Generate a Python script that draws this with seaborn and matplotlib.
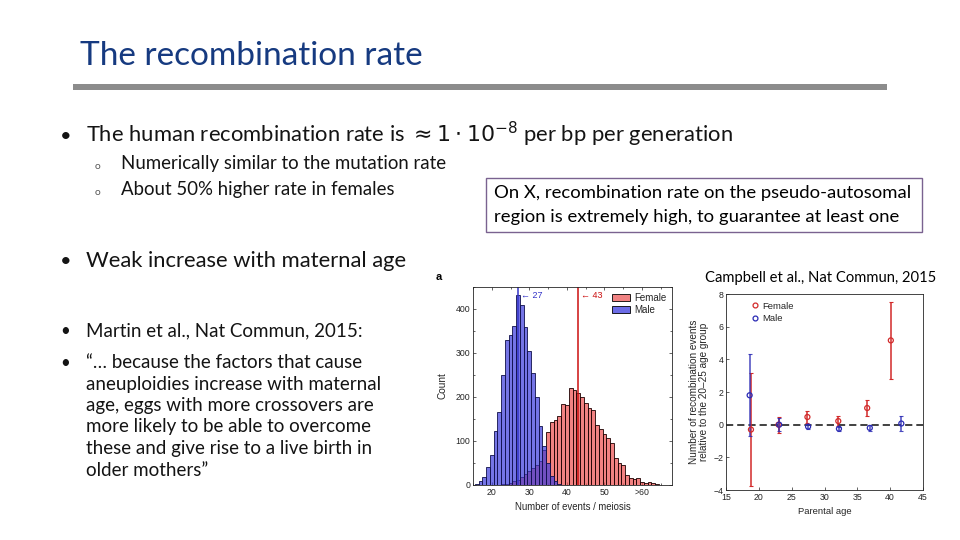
import numpy as np
import pandas as pd
import matplotlib
matplotlib.use("Agg")
import matplotlib.pyplot as plt
import seaborn as sns
from matplotlib.patches import Rectangle, Patch
from matplotlib.lines import Line2D

sns.set_theme(style="ticks")
plt.rcParams['font.family'] = ['Lato', 'DejaVu Sans']

# ---------------- slide text ----------------
title = "The recombination rate"
bullet_main = r"The human recombination rate is $\approx 1\cdot 10^{-8}$ per bp per generation"
sub_bullets = ["Numerically similar to the mutation rate",
               "About 50% higher rate in females"]
bullet_weak = "Weak increase with maternal age"
bullet_martin = "Martin et al., Nat Commun, 2015:"
quote_lines = ["\u201c\u2026 because the factors that cause",
               "aneuploidies increase with maternal",
               "age, eggs with more crossovers are",
               "more likely to be able to overcome",
               "these and give rise to a live birth in",
               "older mothers\u201d"]
box_lines = ["On X, recombination rate on the pseudo-autosomal",
             "region is extremely high, to guarantee at least one"]
citation = "Campbell et al., Nat Commun, 2015"

# ---------------- histogram data (panel a) ----------------
male_bins = [16, 17, 18, 19, 20, 21, 22, 23, 24, 25, 26, 27, 28, 29, 30, 31, 32, 33, 34, 35, 36, 37, 38]
male_counts = [3, 9, 19, 40, 68, 122, 167, 250, 330, 342, 362, 432, 410, 360, 305, 254, 200, 133, 88, 50, 20, 8, 3]
female_bins = [22, 23, 24, 25, 26, 27, 28, 29, 30, 31, 32, 33, 34, 35, 36, 37, 38, 39, 40, 41, 42, 43,
               44, 45, 46, 47, 48, 49, 50, 51, 52, 53, 54, 55, 56, 57, 58, 59, 60, 61, 62, 63, 64]
female_counts = [1, 2, 3, 5, 8, 12, 18, 25, 32, 38, 45, 55, 80, 120, 143, 148, 157, 184, 182, 221, 215, 209,
                 200, 186, 175, 171, 137, 128, 115, 106, 96, 61, 49, 46, 23, 17, 14, 15, 6, 5, 6, 4, 2]
male_mean = 27
female_mean = 43
hist_xticks = [20, 30, 40, 50, 60]
hist_xticklabels = ["20", "30", "40", "50", ">60"]
hist_yticks = [0, 100, 200, 300, 400]

# ---------------- age effect data ----------------
female_age = [18.8, 23.0, 27.4, 32.1, 36.5, 40.1]
female_diff = [-0.3, 0.0, 0.47, 0.22, 1.02, 5.16]
female_err = [3.45, 0.5, 0.35, 0.32, 0.48, 2.38]
male_age = [18.6, 23.1, 27.5, 32.2, 36.9, 41.7]
male_diff = [1.8, 0.0, -0.12, -0.25, -0.2, 0.07]
male_err = [2.5, 0.4, 0.15, 0.12, 0.18, 0.45]

W, H = 960, 540
fig = plt.figure(figsize=(W / 100, H / 100), dpi=100)
fig.patch.set_facecolor("white")

# background axes in pixel coordinates
bg = fig.add_axes([0, 0, 1, 1], zorder=0)
bg.set_xlim(0, W)
bg.set_ylim(H, 0)
bg.axis("off")

TXT = "#141414"
renderer = fig.canvas.get_renderer()


def fit_size(s, target_w, base=14, **kw):
    t = bg.text(0, 0, s, fontsize=base, **kw)
    w = t.get_window_extent(renderer).width
    t.remove()
    return base * target_w / w


# title
ts = fit_size(title, 344)
bg.text(80, 65, title, fontsize=ts, color="#163A80", va="baseline")
bg.add_patch(Rectangle((73, 84), 814, 6, color="#8c8c8c", lw=0))

# body
bs = fit_size(bullet_weak, 322)
ss = fit_size(sub_bullets[0], 326)
qs = fit_size(quote_lines[1], 295)


def bullet(y, s, size):
    bg.text(60, y, "\u2022", fontsize=size * 0.9, color=TXT, va="baseline")
    bg.text(86, y, s, fontsize=size, color=TXT, va="baseline")


bullet(142, bullet_main, bs)
for y, s in zip([169, 195], sub_bullets):
    bg.text(95, y, "o", fontsize=ss * 0.55, color="#555555", va="baseline")
    bg.text(121, y, s, fontsize=ss, color=TXT, va="baseline")
bullet(267, bullet_weak, bs)
bullet(336, bullet_martin, qs)
bullet(368, quote_lines[0], qs)
for y, s in zip([390, 411, 432, 454, 476], quote_lines[1:]):
    bg.text(86, y, s, fontsize=qs, color=TXT, va="baseline")

# box
bg.add_patch(Rectangle((486, 178), 436, 54, fill=False, ec="#7a6290", lw=1))
xs = fit_size(box_lines[0], 418)
bg.text(494, 198, box_lines[0], fontsize=xs, color="black", va="baseline")
bg.text(494, 222, box_lines[1], fontsize=xs, color="black", va="baseline")

cs = fit_size(citation, 230)
bg.text(705, 282, citation, fontsize=cs, color="black", va="baseline")

# ---------------- histogram panel ----------------
fig_font = ["Liberation Sans", "DejaVu Sans"]
ax = fig.add_axes([473 / W, 1 - 485 / H, 199 / W, 198 / H], zorder=2)
all_bins = male_bins + female_bins
edges = [k - 0.5 for k in range(min(all_bins), max(all_bins) + 2)]
fdf = pd.DataFrame({"events": female_bins, "count": female_counts})
mdf = pd.DataFrame({"events": male_bins, "count": male_counts})
sns.histplot(data=fdf, x="events", weights="count", bins=edges, ax=ax,
             color="#ee5252", alpha=0.72, edgecolor="#1a0000", linewidth=0.6)
sns.histplot(data=mdf, x="events", weights="count", bins=edges, ax=ax,
             color="#3b3bdc", alpha=0.7, edgecolor="#10104a", linewidth=0.6)
ax.axvline(male_mean, color="#3434c8", lw=1.1)
ax.axvline(female_mean, color="#cc1010", lw=1.1)
ax.text(male_mean + 0.7, 430, "\u2190 27", color="#3434c8", fontsize=6.5, va="center", family=fig_font)
ax.text(female_mean + 0.7, 430, "\u2190 43", color="#cc1010", fontsize=6.5, va="center", family=fig_font)
ax.set_xlim(15.8, 68)
ax.set_ylim(0, 450)
ax.set_xticks(hist_xticks)
ax.set_xticklabels(hist_xticklabels)
ax.set_yticks(hist_yticks)
ax.set_xticks([15, 25, 35, 45, 55, 65], minor=True)
ax.set_yticks([50, 150, 250, 350, 450], minor=True)
ax.tick_params(which="both", direction="in", top=True, right=True, labelsize=6.3, length=2.5, width=0.5, pad=2)
ax.tick_params(which="minor", length=1.5)
for lab in ax.get_xticklabels() + ax.get_yticklabels():
    lab.set_family(fig_font)
for sp in ax.spines.values():
    sp.set_linewidth(0.6)
ax.set_xlabel("Number of events / meiosis", fontsize=6.9, family=fig_font, labelpad=4)
ax.set_ylabel("Count", fontsize=7.2, family=fig_font, labelpad=6)
ax.legend(handles=[Patch(fc="#f08282", ec="black", lw=0.6, label="Female"),
                   Patch(fc="#6c6ce6", ec="black", lw=0.6, label="Male")],
          loc="upper right", frameon=False, prop={"family": fig_font, "size": 7},
          handlelength=1.9, handleheight=0.75, handletextpad=0.4, borderaxespad=0.2, labelspacing=0.25)
bg.text(436, 280, "a", fontsize=8, weight="bold", family=fig_font, color="black", va="baseline")

# ---------------- age effect panel ----------------
ax2 = fig.add_axes([726 / W, 1 - 490 / H, 197 / W, 196 / H], zorder=2)
RED = "#d22a2a"
BLUE = "#2a2ab4"
ax2.axhline(0, color="#333333", ls=(0, (4, 2.2)), lw=1.3, zorder=1)
ax2.errorbar(female_age, female_diff, yerr=female_err, fmt="none", ecolor=RED, elinewidth=1.1,
             capsize=1.5, capthick=0.8, zorder=2)
ax2.errorbar(male_age, male_diff, yerr=male_err, fmt="none", ecolor=BLUE, elinewidth=1.1,
             capsize=1.5, capthick=0.8, alpha=0.85, zorder=3)
df = pd.DataFrame({"age": female_age + male_age,
                   "diff": female_diff + male_diff,
                   "sex": ["Female"] * len(female_age) + ["Male"] * len(male_age)})
sns.scatterplot(data=df, x="age", y="diff", hue="sex", palette={"Female": RED, "Male": BLUE},
                s=13, ax=ax2, legend=False, zorder=4)
coll = ax2.collections[-1]
fc = coll.get_facecolors()
coll.set_edgecolors(fc)
coll.set_facecolors("none")
coll.set_linewidths(0.9)
ax2.set_xlim(15, 45)
ax2.set_ylim(-4, 8)
ax2.set_xticks([15, 20, 25, 30, 35, 40, 45])
ax2.set_yticks([-4, -2, 0, 2, 4, 6, 8])
ax2.tick_params(direction="in", labelsize=6.3, length=2.5, width=0.5, pad=2)
for lab in ax2.get_xticklabels() + ax2.get_yticklabels():
    lab.set_family(fig_font)
for sp in ax2.spines.values():
    sp.set_linewidth(0.6)
ax2.set_xlabel("Parental age", fontsize=6.8, family=fig_font, labelpad=4)
ax2.set_ylabel("Number of recombination events\nrelative to the 20\u201325 age group",
               fontsize=7.2, family=fig_font, labelpad=3, linespacing=1.05)
ax2.legend(handles=[Line2D([], [], ls="none", marker="o", mfc="none", mec=RED, ms=3.5, mew=0.9, label="Female"),
                    Line2D([], [], ls="none", marker="o", mfc="none", mec=BLUE, ms=3.5, mew=0.9, label="Male")],
           loc="upper left", frameon=False, prop={"family": fig_font, "size": 6.8},
           handlelength=0.8, handletextpad=0.4, borderaxespad=0.4, labelspacing=0.35,
           bbox_to_anchor=(0.09, 1.0))

fig.savefig("out.png", dpi=100, facecolor="white")
